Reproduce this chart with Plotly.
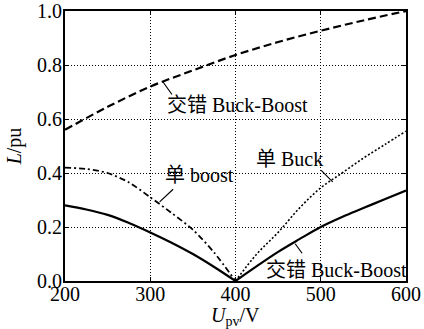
import plotly.graph_objects as go

# Data
u_full = [200, 250, 300, 350, 400, 450, 500, 550, 600]
L_interleaved_upper = [0.56, 0.645, 0.72, 0.78, 0.837, 0.885, 0.927, 0.965, 1.0]

u_left = [200, 225, 250, 275, 300, 325, 350, 375, 400]
L_single_boost = [0.42, 0.415, 0.40, 0.365, 0.31, 0.252, 0.19, 0.105, 0.0]
L_interleaved_left = [0.28, 0.265, 0.245, 0.215, 0.18, 0.142, 0.10, 0.052, 0.0]

u_right = [400, 425, 450, 475, 500, 525, 550, 575, 600]
L_single_buck = [0.0, 0.10, 0.18, 0.27, 0.345, 0.40, 0.455, 0.505, 0.555]
L_interleaved_right = [0.0, 0.055, 0.108, 0.155, 0.2, 0.237, 0.27, 0.303, 0.335]

x_ticks = [200, 300, 400, 500, 600]
y_ticks = [0.0, 0.2, 0.4, 0.6, 0.8, 1.0]

SERIF = "Liberation Serif, Noto Sans CJK SC"
FS = 20

fig = go.Figure()
fig.add_trace(go.Scatter(x=u_full, y=L_interleaved_upper, mode="lines",
                         line=dict(color="black", width=2.2, dash="8px,4px", shape="spline")))
fig.add_trace(go.Scatter(x=u_left, y=L_single_boost, mode="lines",
                         line=dict(color="black", width=1.8, dash="6px,3px,2px,3px",
                                   shape="spline", smoothing=0.8)))
fig.add_trace(go.Scatter(x=u_right, y=L_single_buck, mode="lines",
                         line=dict(color="black", width=1.6, dash="2px,2px", shape="spline")))
fig.add_trace(go.Scatter(x=u_left, y=L_interleaved_left, mode="lines",
                         line=dict(color="black", width=2.2, shape="spline")))
fig.add_trace(go.Scatter(x=u_right, y=L_interleaved_right, mode="lines",
                         line=dict(color="black", width=2.2, shape="spline")))

ann_font = dict(family=SERIF, size=FS, color="black")
# Leader lines (no arrow heads) pointing at curves
leaders = [
    (315, 0.737, 10, 14),
    (311, 0.293, 15, -14),
    (514, 0.367, -13, -13),
    (470, 0.138, 8, 11),
]
for x, y, ax, ay in leaders:
    fig.add_annotation(x=x, y=y, ax=ax, ay=ay, text="", showarrow=True,
                       arrowhead=0, arrowwidth=1.2, arrowcolor="black")

labels = [
    (402, 0.652, "交错 Buck-Boost"),
    (358, 0.393, "单 boost"),
    (463, 0.452, "单 Buck"),
    (518, 0.040, "交错 Buck-Boost"),
]
for x, y, t in labels:
    fig.add_annotation(x=x, y=y, text=t, showarrow=False, font=ann_font,
                       xanchor="center", yanchor="middle")

# x-axis title placed as paper annotation below the tick labels
fig.add_annotation(x=0.5, y=-0.132, xref="paper", yref="paper", yanchor="middle",
                   text="<i>U</i><sub>pv</sub>/V", showarrow=False,
                   font=dict(family=SERIF, size=FS, color="black"))

axis_common = dict(
    showline=True, linecolor="black", linewidth=2, mirror="ticks",
    ticks="inside", ticklen=4, tickwidth=1, tickcolor="black",
    showgrid=True, gridcolor="black", gridwidth=1, griddash="1px,2px",
    zeroline=False, tickfont=dict(family=SERIF, size=FS, color="black"),
)

fig.update_xaxes(range=[200, 600], tickvals=x_ticks, ticktext=[str(v) for v in x_ticks],
                 ticklabelstandoff=-6, automargin=False, **axis_common)
fig.update_yaxes(range=[0, 1], tickvals=y_ticks, ticktext=[f"{v:.1f}" for v in y_ticks],
                 title=dict(text="<i>L</i>/pu", font=dict(family=SERIF, size=FS, color="black"),
                            standoff=10),
                 ticklabelstandoff=-3, automargin=False,
                 **axis_common)

fig.update_layout(
    width=424, height=329,
    margin=dict(l=65, r=18, t=11, b=48),
    plot_bgcolor="white", paper_bgcolor="white",
    showlegend=False,
)

fig.write_html("out.html", config={"displayModeBar": False},
               post_script="document.body.style.margin='0';")
